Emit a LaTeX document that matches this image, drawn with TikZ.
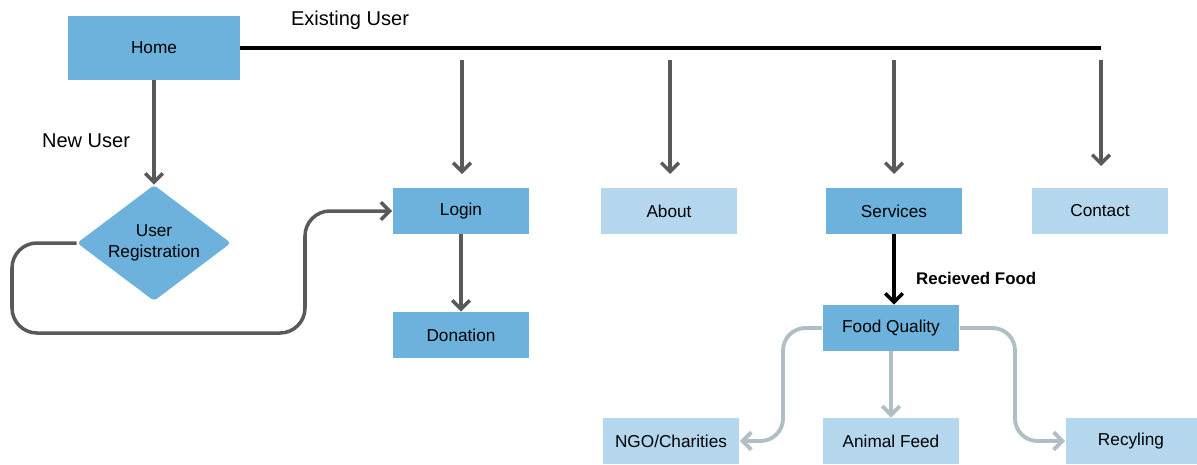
\documentclass[tikz,border=0pt]{standalone}
\usepackage{fontspec}
\setmainfont{Liberation Sans}
\usetikzlibrary{shapes.geometric, arrows.meta}

\definecolor{midblue}{HTML}{6CB2DD}
\definecolor{paleblue}{HTML}{B4D7EE}
\definecolor{darkgrey}{HTML}{595959}
\definecolor{softgrey}{HTML}{B0BEC5}

\begin{document}
\begin{tikzpicture}[x=0.02cm, y=-0.02cm,
    page/.style={rectangle, fill=midblue, minimum width=2.74cm, minimum height=0.92cm,
        inner sep=0pt, font=\fontsize{9.8}{11}\selectfont},
    subpage/.style={page, fill=paleblue},
    link/.style={draw=darkgrey, line width=2pt, -{Straight Barb[length=5pt, width=10pt]}},
    sublink/.style={draw=softgrey, line width=2.2pt, rounded corners=0.45cm,
        -{Straight Barb[length=5pt, width=10pt]}},
    tag/.style={font=\fontsize{11.4}{13}\selectfont}
  ]

    \useasboundingbox (0,0) rectangle (1197,464);

    % top level
    \node[page, minimum width=3.44cm, minimum height=1.28cm] (home) at (154,48) {Home};
    \node[shape=diamond, fill=midblue, aspect=1.33, inner sep=0pt, rounded corners=2pt,
        minimum width=3.08cm, minimum height=2.32cm, align=center,
        font=\fontsize{9.8}{12}\selectfont] (reg) at (154,243) {User\\Registration};

    \node[page] (login) at (461,211) {Login};
    \node[page] (donation) at (461,335) {Donation};
    \node[subpage] (about) at (669,211) {About};
    \node[page] (services) at (894,211) {Services};
    \node[subpage] (contact) at (1100,211) {Contact};

    \node[page] (quality) at (891,328) {Food Quality};
    \node[subpage] (ngo) at (671,441) {NGO/Charities};
    \node[subpage] (feed) at (891,441) {Animal Feed};
    \node[subpage, minimum width=2.62cm] (recycle) at (1131,441) {Recyling};

    \node[tag] at (350,20) {Existing User};
    \node[tag] at (86,141) {New User};

    % existing user bar
    \coordinate (E) at (1101,48);
    \draw[line width=2.3pt] (home.east) -- (E);

    \foreach \x/\y in {462/174, 670/174, 894/174, 1101/166}
        \draw[link] (\x,60) -- (\x,\y);

    % new user
    \draw[link] (home.south) -- (reg.north);
    \draw[link, rounded corners=0.5cm] (reg.west) -- (12,243) -- (12,333) -- (305,333)
        -- (305,211) -- (login.west);
    \draw[link] (login.south) -- (donation.north);

    % services
    \draw[line width=2pt, -{Straight Barb[length=5pt, width=10pt]}] (services.south)
        -- (quality.north -| services.south);
    \node[anchor=west, font=\bfseries\fontsize{9.6}{11}\selectfont] at (910,278) {Recieved Food};

    \draw[sublink] (quality.west) -- (783,328) -- (783,441) -- (ngo.east);
    \draw[sublink] (quality.south) -- (feed.north);
    \draw[sublink] (quality.east) -- (1015,328) -- (1015,441) -- (recycle.west);

\end{tikzpicture}
\end{document}
